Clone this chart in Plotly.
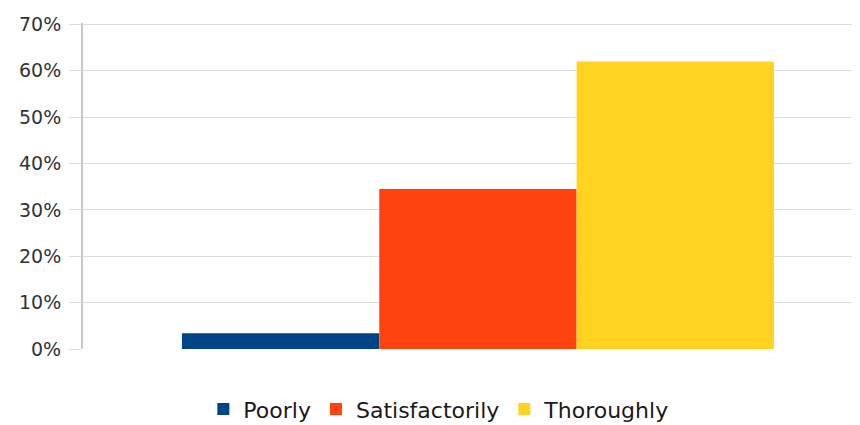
import plotly.graph_objects as go

series_names = ["Poorly", "Satisfactorily", "Thoroughly"]
series_values = [3.4, 34.5, 62.0]
series_colors = ["#004586", "#ff420e", "#ffd320"]
category = [""]
tick_vals = [0, 10, 20, 30, 40, 50, 60, 70]
tick_text = ["0%", "10%", "20%", "30%", "40%", "50%", "60%", "70%"]

fig = go.Figure()
for name, val, col in zip(series_names, series_values, series_colors):
    fig.add_trace(go.Bar(x=category, y=[val], name=name, marker=dict(color=col, line=dict(width=0))))

# the page body has an 8px default margin, so the figure is sized to fit the window
fig.update_layout(
    width=852, height=417,
    autosize=False,
    margin=dict(l=75, r=0, t=15, b=76, autoexpand=False),
    paper_bgcolor="white", plot_bgcolor="white",
    barmode="group", bargap=0.24, bargroupgap=0,
    font=dict(family="DejaVu Sans, sans-serif", size=19, color="#222222"),
    showlegend=True,
    legend=dict(orientation="h", x=0.458, xanchor="center", y=-0.12, yanchor="top",
                font=dict(size=22, color="#1a1a1a"), itemwidth=30, tracegroupgap=0),
    xaxis=dict(showticklabels=False, showgrid=False, zeroline=False, showline=False,
               fixedrange=True, automargin=False, range=[-0.507, 0.4905]),
    yaxis=dict(range=[0, 70.3], tickvals=tick_vals, ticktext=tick_text, showgrid=True,
               gridcolor="#dcdcdc", gridwidth=1, zeroline=False, showline=True,
               linecolor="#c8c8c8", linewidth=2, ticks="outside", ticklen=12,
               tickcolor="#dcdcdc", ticklabelstandoff=4, automargin=False,
               tickfont=dict(size=19, color="#333333")),
)

fig.write_html("out.html")
